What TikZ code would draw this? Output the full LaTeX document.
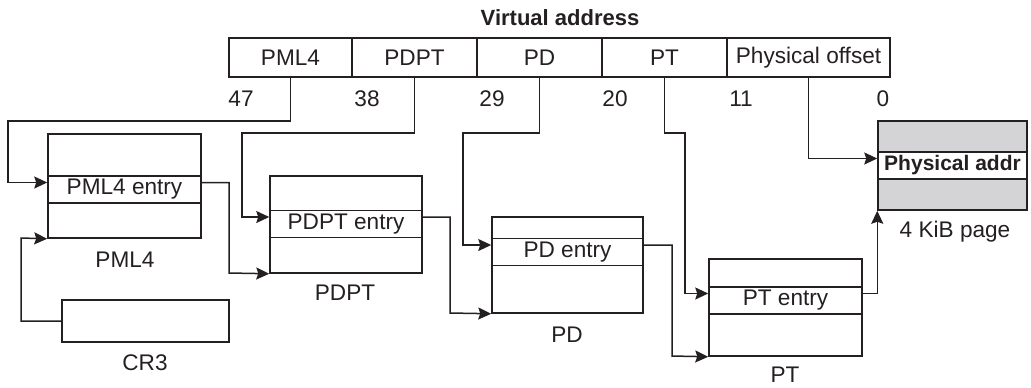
\documentclass[tikz,border=0pt]{standalone}
\usepackage{fontspec}
\setmainfont{Liberation Sans}
\usepackage{xcolor}
\definecolor{lineCol}{rgb}{0.14,0.12,0.13}
\definecolor{pageCol}{rgb}{0.83,0.83,0.84}
\usetikzlibrary{arrows.meta}

\begin{document}
\begin{tikzpicture}[x=0.5pt,y=-0.5pt,line width=0.75pt,draw=lineCol,
  every node/.style={font=\fontsize{11.3}{13}\selectfont,text=lineCol},
  field/.style={draw,minimum height=19.5pt,minimum width=62.5pt,inner sep=0pt},
  tbl/.style={draw,minimum width=76.5pt,minimum height=48.5pt,inner sep=0pt},
  entry/.style={draw,minimum width=76.5pt,minimum height=13.5pt,inner sep=0pt},
  arr/.style={-{Stealth[length=6.5pt,width=6pt,inset=1pt]}}]
\useasboundingbox (0,0) rectangle (1031,387);
%
\node[font=\fontsize{11}{13}\selectfont\bfseries] (title) at (560,18) {Virtual address};
\node[field,minimum width=61.5pt] (fpml4) at (290.5,57.5) {PML4};
\node[field] (fpdpt) at (414.5,57.5) {PDPT};
\node[field] (fpd) at (539.5,57.5) {PD};
\node[field] (fpt) at (664.5,57.5) {PT};
\node[field,minimum width=81.5pt] (foff) at (808.5,57.5) {Physical offset};
\node (b47) at (241,99) {47};
\node (b38) at (367,99) {38};
\node (b29) at (492,99) {29};
\node (b20) at (615,99) {20};
\node (b11) at (741,99) {11};
\node (b0) at (883,99) {0};
%
\node[tbl,minimum height=52pt] (pml4) at (124.5,186) {};
\node[entry] (pml4e) at (124.5,189.5) {PML4 entry};
\node (pml4l) at (125,260) {PML4};
\node[tbl,minimum width=83.5pt,minimum height=21pt] (cr3) at (145.5,321) {};
\node (cr3l) at (145,363) {CR3};
\node[tbl,minimum width=76pt] (pdpt) at (346,224.5) {};
\node[entry,minimum width=76pt] (pdpte) at (346,224) {PDPT entry};
\node (pdptl) at (345,293) {PDPT};
\node[tbl,minimum width=75.5pt,minimum height=48pt] (pd) at (567.5,265) {};
\node[entry,minimum width=75.5pt] (pde) at (567.5,252) {PD entry};
\node (pdl) at (567,335) {PD};
\node[tbl] (pt) at (785.5,307.5) {};
\node[entry] (pte) at (785.5,300.5) {PT entry};
\node (ptl) at (785,375) {PT};
\node[tbl,fill=pageCol,minimum width=74.5pt,minimum height=44.5pt] (page) at (952.5,165.5) {};
\node[entry,fill=white,minimum width=74.5pt,font=\fontsize{10.5}{12}\selectfont\bfseries] (pagee) at (952.5,165.5) {Physical addr};
\node (pagel) at (955,232) {4 KiB page};
%
\coordinate (pml4in) at ([yshift=3.5pt]pml4e.west);
\coordinate (pml4out) at ([yshift=3.5pt]pml4e.east);
\coordinate (pdptin) at ([yshift=3.5pt]pdpte.west);
\coordinate (pdptout) at ([yshift=3.5pt]pdpte.east);
\coordinate (pdin) at ([yshift=3.5pt]pde.west);
\coordinate (pdout) at ([yshift=3.5pt]pde.east);
\coordinate (ptin) at ([yshift=3.5pt]pte.west);
\coordinate (ptout) at ([yshift=3.5pt]pte.east);
\coordinate (pagein) at ([yshift=3.5pt]pagee.west);
%
\draw[arr] (fpml4.south) |- (8,121) |- (pml4in);
\draw[arr] (cr3.west) -| (21,238) -- (pml4.south west);
\draw[arr] (pml4out) -| (229,273) -- (pdpt.south west);
\draw[arr] (fpdpt.south) |- (242,133) |- (pdptin);
\draw[arr] (pdptout) -| (450,313) -- (pd.south west);
\draw[arr] (fpd.south) |- (463,133) |- (pdin);
\draw[arr] (pdout) -| (672,356) -- (pt.south west);
\draw[arr] (fpt.south) |- (685,133) |- (ptin);
\draw[arr] (ptout) -| (page.south west);
\draw[arr] (foff.south) |- (pagein);
\end{tikzpicture}
\end{document}
